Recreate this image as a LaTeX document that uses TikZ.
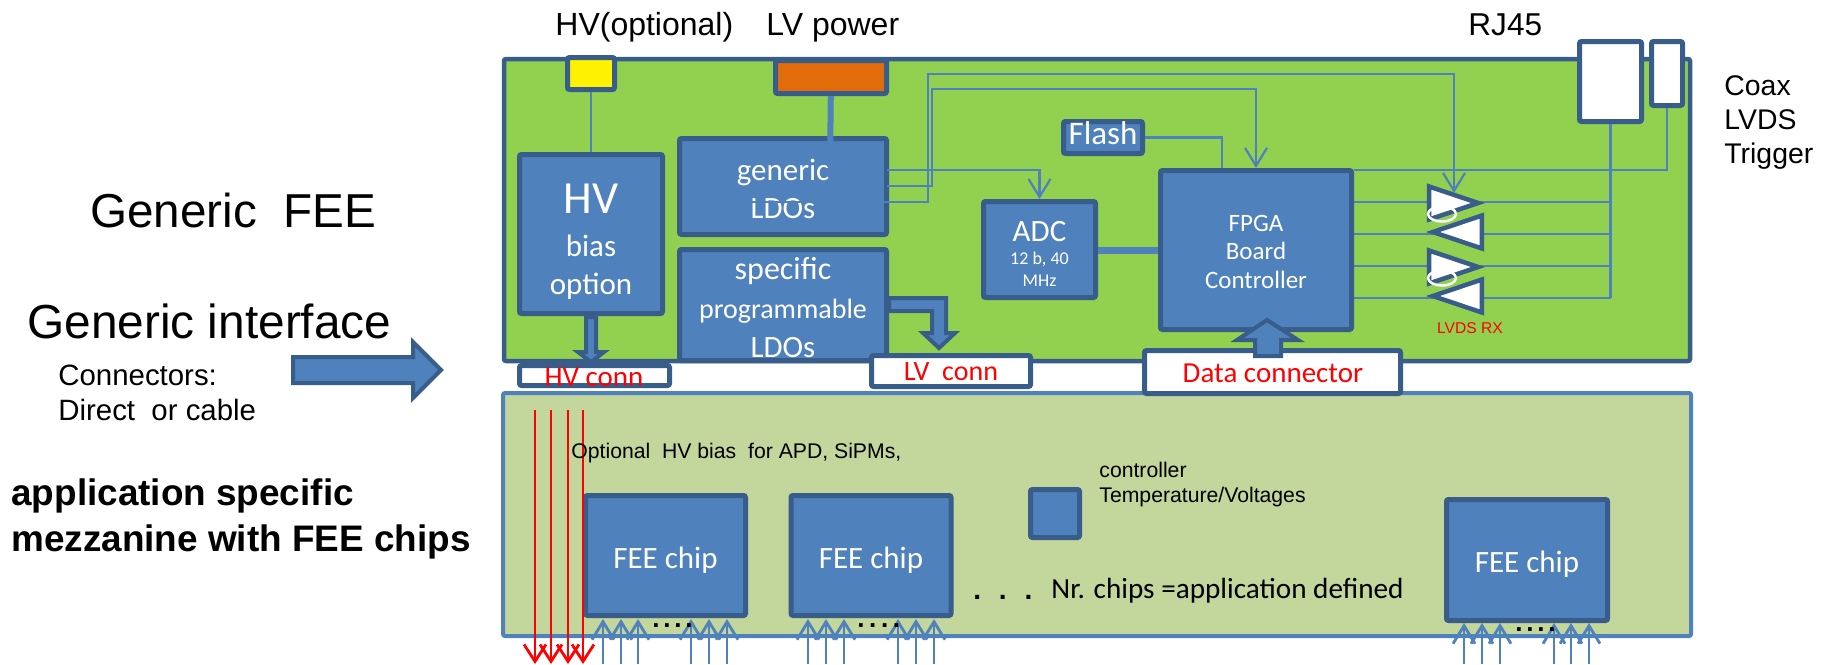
\documentclass[tikz,border=0pt]{standalone}
\usepackage{fontspec}
\setmainfont{Liberation Sans}
\newfontfamily\carlito{Carlito}
\usepackage{tikz}
\usetikzlibrary{shapes,shapes.geometric,arrows,arrows.meta}
\definecolor{blockblue}{HTML}{4F81BD}
\definecolor{blockedge}{HTML}{385D8A}
\definecolor{boardgreen}{HTML}{92D050}
\definecolor{mezzgreen}{HTML}{C3D69B}
\definecolor{lvorange}{HTML}{E36C0A}
\newcommand{\fs}[1]{\fontsize{#1}{#1}\selectfont}
\tikzstyle{board} = [rectangle, draw=blockedge, fill=boardgreen, line width=2.25pt, rounded corners=1pt]
\tikzstyle{mezz} = [rectangle, draw=blockblue, fill=mezzgreen, line width=2pt, rounded corners=1pt]
\tikzstyle{block} = [rectangle, draw=blockedge, fill=blockblue, line width=2.5pt, text=white, align=center, rounded corners=1pt, inner sep=0pt, font=\carlito\fs{15.5}]
\tikzstyle{conn} = [rectangle, draw=blockedge, fill=white, line width=2.5pt, text=red, align=center, rounded corners=1pt, inner sep=0pt, font=\carlito\fs{14.5}]
\tikzstyle{rx} = [isosceles triangle, isosceles triangle stretches, draw=blockedge, fill=white, line width=2.25pt, minimum width=16.5pt, minimum height=24.5pt, inner sep=0pt, anchor=apex]
\tikzstyle{txt} = [inner sep=0pt, anchor=base west]
\tikzstyle{line} = [draw=blockblue, line width=1.1pt]
\tikzstyle{thick line} = [draw=blockblue, line width=3pt]
\tikzstyle{sigarrow} = [draw=blockblue, line width=1.1pt, -{Straight Barb[length=9pt,width=11pt,line width=1.1pt]}]
\tikzstyle{padarrow} = [draw=blockblue, line width=1.4pt, -{Straight Barb[length=9pt,width=11pt,line width=1.4pt]}]
\tikzstyle{hvarrow} = [draw=red, line width=1.4pt, -{Straight Barb[length=8.5pt,width=11pt,line width=1.4pt]}]
\tikzstyle{bigarrow} = [draw=blockedge, fill=blockblue, line width=2pt, miter limit=10]

\begin{document}
\begin{tikzpicture}[x=0.5pt,y=-0.5pt,node distance = auto]
    \useasboundingbox (0,0) rectangle (1825,664);
    % Place nodes
    \node [board, minimum width=593pt, minimum height=151pt] (fee) at (1097,210) {};
    \node [mezz, minimum width=594pt, minimum height=121.5pt] (mezzanine) at (1097,514.5) {};

    \node [block, fill=yellow, minimum width=23.5pt, minimum height=16pt] (hvin) at (591,73.5) {};
    \node [block, fill=lvorange, minimum width=55.5pt, minimum height=16.5pt] (lvin) at (831,77) {};
    \node [block, minimum width=71.5pt, minimum height=79.5pt] (hvbias) at (591,234) {{\fs{23}\rule{0pt}{22pt}HV}\\[6pt]bias\\[3.5pt]option};
    \node [block, minimum width=103.5pt, minimum height=48pt] (genldo) at (783,186.5) {\rule{0pt}{13pt}generic\\[3.5pt]LDOs};
    \node [block, below of=genldo, node distance=59.25pt, minimum width=103.5pt, minimum height=55.5pt] (specldo) {{\fs{16}\rule{0pt}{13.6pt}specific}\\[4pt]{\fs{14}programmable}\\[4pt]LDOs};
    \node [block, font=\carlito\fs{16.5}, minimum width=39.5pt, minimum height=16pt] (flash) at (1103,137.5) {\rule[-4.5pt]{0pt}{0pt}Flash};
    \node [block, minimum width=56pt, minimum height=48pt] (adc) at (1039.5,249.5) {\rule{0pt}{14.5pt}ADC\\[-3.7pt]{\fs{9}12 b, 40}\\[-4.4pt]{\fs{9}MHz}};
    \node [block, minimum width=95.5pt, minimum height=79.5pt, font=\carlito\fs{12.5}] (fpga) at (1256,250) {\rule{0pt}{10pt}FPGA\\[1.6pt]Board\\[1.6pt]Controller};

    \node [conn, minimum width=31pt, minimum height=40pt] (rj45) at (1610.5,81.5) {};
    \node [conn, minimum width=15.5pt, minimum height=32pt] (coax) at (1667,73.5) {};

    \node [block, minimum width=80pt, minimum height=60pt] (chipa) at (665.5,555.5) {\rule{0pt}{15pt}FEE chip};
    \node [block, right of=chipa, node distance=102.75pt, minimum width=80pt, minimum height=60pt] (chipb) {\rule{0pt}{15pt}FEE chip};
    \node [block, minimum width=80.5pt, minimum height=60.5pt] (chipc) at (1527,560) {\rule{0pt}{15pt}FEE chip};
    \node [block, minimum width=24.5pt, minimum height=24pt] (ctrl) at (1055,513.5) {};

    % Draw edges
    \coordinate (ldoa) at (887,170);
    \coordinate (ldob) at (887,186);
    \coordinate (ldoc) at (743,202);
    \coordinate (busb) at (932,89);
    \coordinate (busc) at (928,74);
    \coordinate (rxtip) at (1454,193);
    \coordinate (flashin) at (1222,168);
    \coordinate (lvend) at (830,167);
    \coordinate (coaxout) at (1354,170);
    \path [line] (hvin) -- (hvbias);
    \path [thick line] (lvin) -- (lvend);
    \path [sigarrow] (ldoa) -| (adc.north);
    \path [sigarrow] (ldob) -| (busb) -| (fpga.north);
    \path [line] (flash.east) -| (flashin);
    \path [line, line width=3.5pt] (adc.east |- fpga) -- (fpga);
    \path [line] (coaxout) -| (coax.south);

    \coordinate (rowa) at (1395,202);
    \coordinate (rowb) at (1395,234);
    \coordinate (rowc) at (1395,266);
    \coordinate (rowd) at (1395,298);
    \path [line] (fpga.east |- rowa) -- (rj45.south |- rowa);
    \path [line] (fpga.east |- rowb) -- (rj45.south |- rowb);
    \path [line] (fpga.east |- rowc) -- (rj45.south |- rowc);
    \path [line] (fpga.east |- rowd) -- (rj45.south |- rowd);
    \path [line] (rj45.south) -- (rj45.south |- rowd);

    \node [rx] (rxa) at (1484,203) {};
    \node [rx, shape border rotate=180] (rxb) at (1427,232) {};
    \node [rx] (rxc) at (1484,267) {};
    \node [rx, shape border rotate=180] (rxd) at (1427,296) {};
    \path [sigarrow] (ldoc) -| (busc) -| (rxtip);
    \node [ellipse, draw=white, line width=1.2pt, minimum width=14pt, minimum height=7.5pt, inner sep=0pt] (loopa) at (1442,214) {};
    \node [ellipse, draw=white, line width=1.2pt, minimum width=14pt, minimum height=7.5pt, inner sep=0pt] (loopb) at (1442,278) {};

    % big arrows
    \path [bigarrow] (293,357) -- (413,357) -- (413,342) -- (441,370) -- (413,398) -- (413,383) -- (293,383) -- cycle;
    \path [bigarrow] (586,317) -- (596,317) -- (596,352) -- (604,352) -- (591,362) -- (578,352) -- (586,352) -- cycle;
    \path [bigarrow] (889,298) -- (946,298) -- (946,333) -- (955,333) -- (939,348) -- (923,333) -- (932,333) -- (932,311) -- (889,311) -- cycle;

    \node [conn, minimum width=75pt, minimum height=10pt] (hvconn) at (594.5,375.5) {};
    \node [conn, minimum width=79.5pt, minimum height=15.5pt] (lvconn) at (951,371) {};
    \node [conn, minimum width=128pt, minimum height=21.5pt] (dataconn) at (1272.5,372) {};
    \path [bigarrow] (1255,356) -- (1255,340) -- (1237,340) -- (1267,320) -- (1298,340) -- (1281,340) -- (1281,356) -- cycle;

    % connector texts
    \node [inner sep=0pt, text=red, font=\carlito\fs{14.5}] (hvlabel) at (594,377) {HV conn};
    \node [inner sep=0pt, text=red, font=\carlito\fs{14}] (lvlabel) at (951,372) {LV\ \ conn};
    \node [inner sep=0pt, text=red, font=\carlito\fs{14.5}] (datalabel) at (1273,373) {Data connector};
    \node [inner sep=0pt, text=red, font=\fs{7.8}] (rxlabel) at (1470,328) {LVDS RX};

    % mezzanine arrows
    \foreach \x in {535,551,568,583}
        \path [hvarrow] (\x,410) -- (\x,664);
    \foreach \x in {603,621,638,691,709,727,808,826,844,898,916,934}
        \path [padarrow] (\x,664) -- (\x,619);
    \foreach \x in {1464,1482,1500,1554,1571,1589}
        \path [padarrow] (\x,664) -- (\x,623);

    % texts
    \node [txt, font=\fs{16}] (hvtitle) at (555,35) {HV(optional)};
    \node [txt, font=\fs{16}] (lvtitle) at (766,35) {LV power};
    \node [txt, font=\fs{15.8}] (rjtitle) at (1468,35) {RJ45};
    \node [txt, font=\fs{14.2}] (coaxtitle) at (1724,95) {Coax};
    \node [txt, font=\fs{14.2}] (lvdstitle) at (1724,129) {LVDS};
    \node [txt, font=\fs{14.2}] (trigtitle) at (1724,163) {Trigger};
    \node [txt, font=\fs{23.8}] (feetitle) at (90,227) {Generic\ \ FEE};
    \node [txt, font=\fs{23.9}] (iftitle) at (27,338) {Generic interface};
    \node [txt, font=\fs{14.7}] (conntitle) at (58,385) {Connectors:};
    \node [txt, font=\fs{14.7}] (cabletitle) at (58,420) {Direct\ \ or cable};
    \node [txt, font=\bfseries\fs{18.45}] (apptitle) at (11,505) {application specific};
    \node [txt, font=\bfseries\fs{18.45}] (mezztitle) at (11,551) {mezzanine with FEE chips};
    \node [txt, font=\fs{10.6}] (biasnote) at (571,458) {Optional\ \ HV bias\ \ for APD, SiPMs,};
    \node [txt, font=\fs{10.6}] (ctrlnote) at (1099,477) {controller};
    \node [txt, font=\fs{10.6}] (tempnote) at (1099,502) {Temperature/Voltages};
    \node [txt, font=\carlito\fs{14.6}] (nrnote) at (1051,598) {Nr. chips =application defined};
    \node [txt, font=\bfseries\fs{14}] (moredots) at (973,599) {.\hspace{8.9pt}.\hspace{8.9pt}.};
    \node [txt, font=\bfseries\fs{13}] (dotsa) at (652,627) {.\hspace{1.9pt}.\hspace{1.9pt}.\hspace{1.9pt}.};
    \node [txt, font=\bfseries\fs{13}] (dotsb) at (857,627) {.\hspace{2.3pt}.\hspace{2.3pt}.\hspace{2.3pt}.};
    \node [txt, font=\bfseries\fs{13}] (dotsc) at (1515,631) {.\hspace{1.9pt}.\hspace{1.9pt}.\hspace{1.9pt}.};
\end{tikzpicture}
\end{document}
